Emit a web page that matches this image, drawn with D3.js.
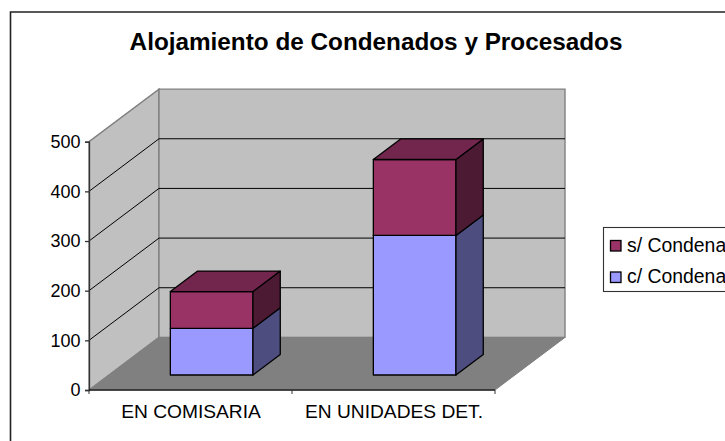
<!DOCTYPE html>
<html><head><meta charset="utf-8">
<script src="https://d3js.org/d3.v7.min.js"></script>
<style>html,body{margin:0;padding:0;background:#fff;overflow:hidden}svg{display:block}text{font-family:"Liberation Sans",Arial,sans-serif;fill:#000}</style>
</head><body><svg id="c" width="725" height="441"></svg>
<script>
const title = "Alojamiento de Condenados y Procesados";
const categories = ["EN COMISARIA", "EN UNIDADES DET."];
const condenados = [94, 281];
const sinCondena = [74, 153];
const yTicks = [0, 100, 200, 300, 400, 500];
const seriesNames = ["c/ Condena", "s/ Condena"];
const seriesColors = ["#9999ff", "#993366"];
const sideColors = ["#4d4d80", "#4d1a33"];
const topColor = "#73264d";

const svg = d3.select("#c");
const x = d3.scaleBand().domain(categories).range([89, 495]).paddingInner(0.593).paddingOuter(0.2965).align(0.51);
const y = d3.scaleLinear().domain([0, 500]).range([390, 141.7]);
const DX = 70, DY = -52.6;
const barT = 0.285, barDepth = 0.39;
const pts = a => a.map(p => p.join(",")).join(" ");
const L = x.range()[0], R = x.range()[1];

svg.append("path").attr("d","M10.5,441V12H760").attr("fill","none").attr("stroke","#222").attr("stroke-width",1.6);
svg.append("text").attr("x",376).attr("y",50).attr("text-anchor","middle").attr("font-size",24.3).attr("font-weight","bold").text(title);

const wall = "#c0c0c0", edge = "#808080";
svg.append("polygon").attr("points",pts([[L,y(0)],[L,y(500)],[L+DX,y(500)+DY],[L+DX,y(0)+DY]])).attr("fill",wall).attr("stroke",edge).attr("stroke-width",1.4);
svg.append("polygon").attr("points",pts([[L+DX,y(0)+DY],[L+DX,y(500)+DY],[R+DX,y(500)+DY],[R+DX,y(0)+DY]])).attr("fill",wall).attr("stroke",edge).attr("stroke-width",1.4);
svg.append("polygon").attr("points",pts([[L,y(0)],[L+DX,y(0)+DY],[R+DX,y(0)+DY],[R,y(0)]])).attr("fill","#808080").attr("stroke","#808080").attr("stroke-width",1);

yTicks.slice(1,-1).forEach(t=>{
  svg.append("polyline").attr("points",pts([[L,y(t)],[L+DX,y(t)+DY],[R+DX,y(t)+DY]])).attr("fill","none").attr("stroke","#000").attr("stroke-width",1);
});

const yAxis = d3.axisLeft(y).tickValues(yTicks).tickSize(4).tickPadding(4.5);
const gy = svg.append("g").attr("transform",`translate(${L},0)`).call(yAxis);
gy.selectAll("text").attr("font-size",18).attr("font-family","'Liberation Sans',Arial,sans-serif");
gy.selectAll("line,path").attr("stroke","#333").attr("stroke-width",1.3);

const xAxis = d3.axisBottom(d3.scalePoint().domain(categories).range([L+(R-L)/4,R-(R-L)/4])).tickSize(0).tickPadding(14);
const gx = svg.append("g").attr("transform",`translate(0,${y(0)})`).call(xAxis);
gx.selectAll("text").attr("font-size",19.2).attr("font-family","'Liberation Sans',Arial,sans-serif");
gx.selectAll("path").attr("stroke","#222").attr("stroke-width",1.3).attr("d",`M${L},0H${R}`);
[L,(L+R)/2,R].forEach(px=>svg.append("line").attr("x1",px).attr("x2",px).attr("y1",y(0)).attr("y2",y(0)+4).attr("stroke","#333"));

categories.forEach((c,i)=>{
  const ox = DX*barT, oy = DY*barT, dx = DX*barDepth, dy = DY*barDepth;
  const x0 = x(c)+ox, x1 = x0+x.bandwidth();
  const stack = [[0,condenados[i]],[condenados[i],condenados[i]+sinCondena[i]]];
  stack.forEach(([a,b],s)=>{
    const ya = y(a)+oy, yb = y(b)+oy;
    const g = svg.append("g").attr("stroke","#000").attr("stroke-width",1.3).attr("stroke-linejoin","round");
    g.append("rect").attr("x",x0).attr("y",yb).attr("width",x1-x0).attr("height",ya-yb).attr("fill",seriesColors[s]);
    g.append("polygon").attr("points",pts([[x1,ya],[x1,yb],[x1+dx,yb+dy],[x1+dx,ya+dy]])).attr("fill",sideColors[s]);
    if(s===1) g.append("polygon").attr("points",pts([[x0,yb],[x0+dx,yb+dy],[x1+dx,yb+dy],[x1,yb]])).attr("fill",topColor);
  });
});

svg.append("rect").attr("x",603.5).attr("y",227.5).attr("width",160).attr("height",64).attr("fill","#fff").attr("stroke","#333").attr("stroke-width",1.1);
[1,0].forEach((s,k)=>{
  svg.append("rect").attr("x",610.5).attr("y",240.5+k*31.5).attr("width",10.5).attr("height",10.5).attr("fill",seriesColors[s]).attr("stroke","#000").attr("stroke-width",1.3);
  svg.append("text").attr("x",627).attr("y",251.7+k*31.5).attr("font-size",19.4).text(seriesNames[s]);
});
</script></body></html>
